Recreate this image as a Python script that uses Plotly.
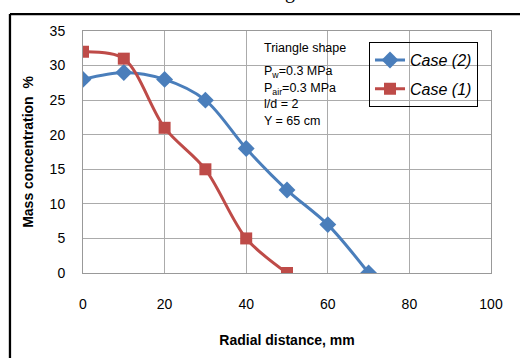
import plotly.graph_objects as go

x_case2 = [0, 10, 20, 30, 40, 50, 60, 70]
y_case2 = [28, 29, 28, 25, 18, 12, 7, 0]
x_case1 = [0, 10, 20, 30, 40, 50]
y_case1 = [32, 31, 21, 15, 5, 0]
x_ticks = [0, 20, 40, 60, 80, 100]
y_ticks = [0, 5, 10, 15, 20, 25, 30, 35]
info_lines = ["Triangle shape", "P<sub>w</sub>=0.3 MPa", "P<sub>air</sub>=0.3 MPa", "l/d = 2", "Y = 65 cm"]
info_y = [32.5, 29.1, 26.6, 24.4, 22.0]

BLUE = "#4A7EBB"
RED = "#BE4B48"

fig = go.Figure()
fig.add_trace(go.Scatter(
    x=x_case2, y=y_case2, name="Case (2)", legendgroup="a",
    mode="lines+markers", line=dict(color=BLUE, width=3, shape="spline", smoothing=0.9),
    marker=dict(symbol="diamond", size=13, color=BLUE)))
fig.add_trace(go.Scatter(
    x=x_case1, y=y_case1, name="Case (1)", legendgroup="b",
    mode="lines+markers", line=dict(color=RED, width=3, shape="spline", smoothing=0.9),
    marker=dict(symbol="square", size=12, color=RED)))

for t, yy in zip(info_lines, info_y):
    fig.add_annotation(x=43.9, y=yy, text=t, showarrow=False, xanchor="left", yanchor="middle",
                       font=dict(family="Arial", size=12.5, color="black"))

# cropped caption letter at the very top
fig.add_annotation(xref="paper", yref="paper", x=(290 - 83) / 408, y=1.164, text="g",
                   showarrow=False, xanchor="center", yanchor="middle",
                   font=dict(family="Liberation Serif", size=20, color="black"))

# outer frame lines (cropped)
fig.add_shape(type="line", xref="paper", yref="paper", x0=-0.179, x1=1.3, y0=1.07, y1=1.07,
              line=dict(color="black", width=2.3))
fig.add_shape(type="line", xref="paper", yref="paper", x0=-0.179, x1=-0.179, y0=1.07, y1=-0.5,
              line=dict(color="black", width=2.3))

fig.update_layout(
    width=520, height=358,
    margin=dict(l=83, r=29, t=31, b=81),
    paper_bgcolor="white", plot_bgcolor="white",
    font=dict(family="Arial", size=14, color="black"),
    legend=dict(x=0.701, y=0.954, xanchor="left", yanchor="top",
                bgcolor="rgba(0,0,0,0)", bordercolor="black", borderwidth=1,
                font=dict(size=16, style="italic"), tracegroupgap=5,
                traceorder="grouped"),
    xaxis=dict(range=[0, 100], tickvals=x_ticks, showgrid=True, gridcolor="#ABABAB", gridwidth=1,
               showline=True, linecolor="#999999", mirror=True, zeroline=False,
               ticklabelstandoff=18, fixedrange=True,
               title=dict(text="<b>Radial distance, mm</b>", font=dict(size=14), standoff=24)),
    yaxis=dict(range=[0, 35], tickvals=y_ticks, showgrid=True, gridcolor="#ABABAB", gridwidth=1,
               showline=True, linecolor="#999999", mirror=True, zeroline=False,
               ticklabelstandoff=14,
               title=dict(text="<b>Mass concentration  %</b>", font=dict(size=14), standoff=12)),
)

fig.write_html("out.html")
